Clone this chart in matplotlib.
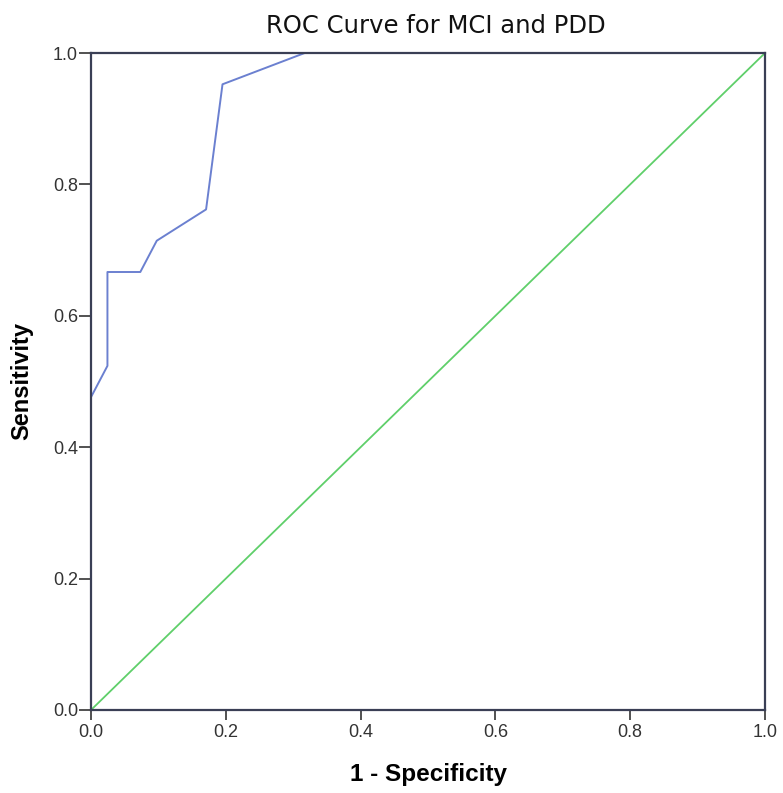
import matplotlib
matplotlib.use("Agg")
import matplotlib.pyplot as plt

fpr = [0.0, 0.0, 1/41, 1/41, 3/41, 4/41, 7/41, 8/41, 13/41, 1.0]
tpr = [0.0, 10/21, 11/21, 14/21, 14/21, 15/21, 16/21, 20/21, 1.0, 1.0]
ref_x = [0.0, 1.0]
ref_y = [0.0, 1.0]
ticks = [0.0, 0.2, 0.4, 0.6, 0.8, 1.0]
tick_labels = ["0.0", "0.2", "0.4", "0.6", "0.8", "1.0"]

fig = plt.figure(figsize=(7.83, 7.93), dpi=100)
ax = fig.add_axes([91/783, 83/793, 674/783, 657/793])

ax.plot(ref_x, ref_y, color="#5fcf6a", lw=1.3, zorder=2)
ax.plot(fpr, tpr, color="#6b80d0", lw=1.4, zorder=2.2, clip_on=False)

ax.set_xlim(0, 1)
ax.set_ylim(0, 1)
ax.set_xticks(ticks)
ax.set_yticks(ticks)
ax.set_xticklabels(tick_labels, family="Liberation Sans", fontsize=13, color="#333333")
ax.set_yticklabels(tick_labels, family="Liberation Sans", fontsize=13, color="#333333")
ax.tick_params(axis="y", direction="out", length=8.6, width=1.2, color="#333333", pad=0.8)
ax.tick_params(axis="x", direction="out", length=7.2, width=1.2, color="#333333", pad=3)
for s in ax.spines.values():
    s.set_color("#3a3f55")
    s.set_linewidth(1.6)
    s.set_zorder(3)

ax.set_xlabel("1 - Specificity", family="Liberation Sans", fontweight="bold",
              fontsize=17.5, labelpad=16)
ax.set_ylabel("Sensitivity", family="Liberation Sans", fontweight="bold",
              fontsize=17, labelpad=14)
fig.text(436/783, 1 - 26/793, "ROC Curve for MCI and PDD", ha="center", va="center",
         family="DejaVu Sans", fontsize=17.5, color="#111111")

fig.savefig("out.png", dpi=100)
